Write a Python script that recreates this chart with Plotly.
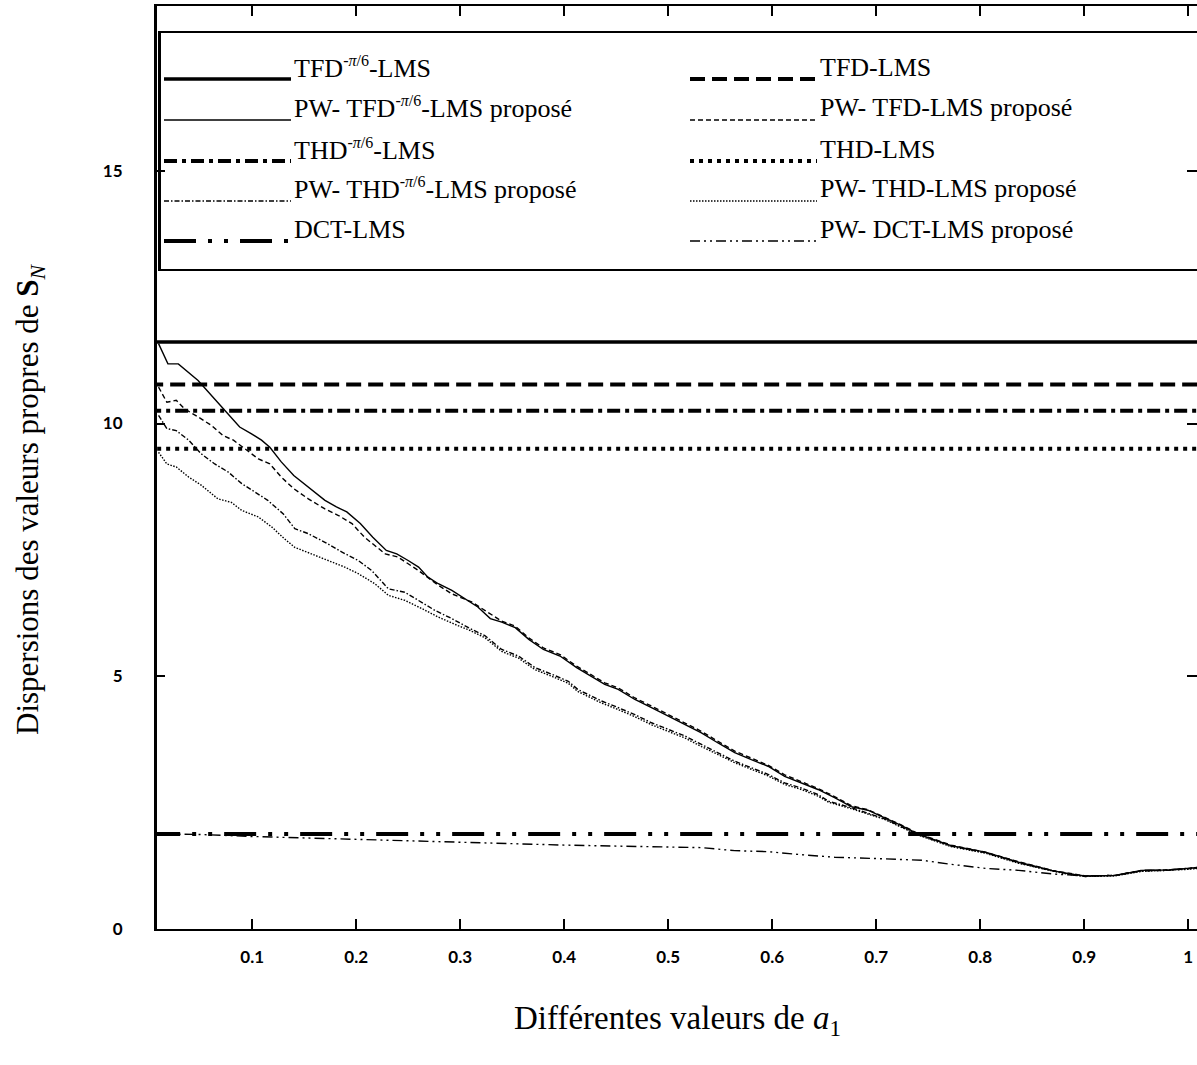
import plotly.graph_objects as go

# ---------------- data ----------------
# constant (non-PW) eigenvalue spreads
SUP = "<sup><span style='font-size:16px'>-<i>π</i>/6</span></sup>"
baseline_names = ["TFD" + SUP + "-LMS", "TFD-LMS", "THD" + SUP + "-LMS", "THD-LMS", "DCT-LMS"]
baseline_values = [11.61, 10.77, 10.25, 9.50, 1.88]
baseline_x = [0.0, 1.02]

x_pw_tfd_pi = [0.01, 0.019, 0.029, 0.048, 0.071, 0.088, 0.099, 0.109, 0.117, 0.128, 0.140, 0.154, 0.170, 0.181, 0.191,
               0.204, 0.216, 0.229, 0.239, 0.250, 0.260, 0.269, 0.279, 0.292, 0.305, 0.317, 0.329, 0.340, 0.353, 0.366,
               0.380, 0.396, 0.412, 0.423, 0.439, 0.452, 0.468, 0.484, 0.500, 0.516, 0.532, 0.548, 0.564, 0.580, 0.596,
               0.612, 0.628, 0.644, 0.660, 0.676, 0.692, 0.708, 0.724, 0.740, 0.772, 0.805, 0.837, 0.869, 0.885, 0.901,
               0.930, 0.955, 0.981, 1.000, 1.010]
y_pw_tfd_pi = [11.58, 11.18, 11.18, 10.85, 10.32, 9.93, 9.80, 9.67, 9.53, 9.24, 8.97, 8.74, 8.48, 8.35, 8.25,
               8.02, 7.75, 7.49, 7.42, 7.29, 7.16, 6.96, 6.83, 6.70, 6.53, 6.37, 6.14, 6.07, 5.96, 5.73,
               5.53, 5.40, 5.17, 5.04, 4.84, 4.74, 4.54, 4.38, 4.21, 4.05, 3.88, 3.68, 3.49, 3.35, 3.22,
               3.02, 2.89, 2.76, 2.60, 2.42, 2.35, 2.20, 2.05, 1.88, 1.65, 1.52, 1.32, 1.16, 1.09, 1.05,
               1.06, 1.16, 1.17, 1.20, 1.22]

x_pw_tfd = [0.01, 0.018, 0.027, 0.035, 0.048, 0.061, 0.072, 0.082, 0.093, 0.106, 0.117, 0.128, 0.140, 0.154, 0.170,
            0.183, 0.196, 0.208, 0.228, 0.240, 0.260, 0.279, 0.292, 0.311, 0.324, 0.340, 0.353, 0.366, 0.380, 0.396,
            0.412, 0.423, 0.439, 0.452, 0.468, 0.484, 0.500, 0.516, 0.532, 0.548, 0.564, 0.580, 0.596, 0.612, 0.628,
            0.644, 0.660, 0.676, 0.692, 0.708, 0.724, 0.740, 0.772, 0.805, 0.837, 0.869, 0.885, 0.901, 0.930, 0.955,
            0.981, 1.000, 1.010]
y_pw_tfd = [10.72, 10.42, 10.46, 10.29, 10.13, 9.96, 9.76, 9.67, 9.50, 9.30, 9.20, 8.94, 8.71, 8.51, 8.31,
            8.18, 8.02, 7.75, 7.42, 7.36, 7.09, 6.80, 6.63, 6.47, 6.30, 6.09, 5.99, 5.76, 5.56, 5.43,
            5.20, 5.07, 4.87, 4.77, 4.57, 4.41, 4.24, 4.08, 3.91, 3.71, 3.52, 3.38, 3.24, 3.05, 2.92,
            2.78, 2.62, 2.44, 2.36, 2.21, 2.06, 1.89, 1.66, 1.52, 1.33, 1.16, 1.10, 1.05, 1.06, 1.15,
            1.17, 1.19, 1.21]

x_pw_thd_pi = [0.01, 0.018, 0.027, 0.039, 0.051, 0.064, 0.077, 0.090, 0.103, 0.115, 0.130, 0.141, 0.154, 0.170, 0.186,
               0.202, 0.215, 0.231, 0.247, 0.260, 0.276, 0.292, 0.308, 0.324, 0.340, 0.356, 0.372, 0.388, 0.404, 0.413,
               0.436, 0.452, 0.468, 0.484, 0.500, 0.516, 0.532, 0.548, 0.564, 0.580, 0.596, 0.612, 0.628, 0.644, 0.654,
               0.676, 0.708, 0.740, 0.772, 0.805, 0.837, 0.869, 0.885, 0.901, 0.930, 0.955, 0.981, 1.000, 1.010]
y_pw_thd_pi = [10.16, 9.90, 9.86, 9.67, 9.40, 9.20, 9.04, 8.81, 8.64, 8.48, 8.21, 7.92, 7.82, 7.65, 7.46,
               7.29, 7.09, 6.73, 6.66, 6.50, 6.30, 6.14, 5.96, 5.80, 5.53, 5.40, 5.17, 5.04, 4.90, 4.74,
               4.51, 4.38, 4.24, 4.08, 3.95, 3.82, 3.65, 3.49, 3.32, 3.19, 3.06, 2.89, 2.79, 2.66, 2.53,
               2.40, 2.18, 1.87, 1.64, 1.51, 1.31, 1.15, 1.09, 1.04, 1.06, 1.15, 1.16, 1.19, 1.21]

x_pw_thd = [0.01, 0.018, 0.027, 0.039, 0.051, 0.067, 0.080, 0.090, 0.106, 0.119, 0.131, 0.141, 0.157, 0.173, 0.189,
            0.202, 0.218, 0.231, 0.247, 0.263, 0.279, 0.298, 0.308, 0.324, 0.340, 0.356, 0.372, 0.388, 0.404, 0.413,
            0.436, 0.452, 0.468, 0.484, 0.500, 0.516, 0.532, 0.548, 0.564, 0.580, 0.596, 0.612, 0.628, 0.644, 0.654,
            0.676, 0.708, 0.740, 0.772, 0.805, 0.837, 0.869, 0.885, 0.901, 0.930, 0.955, 0.981, 1.000, 1.010]
y_pw_thd = [9.43, 9.20, 9.14, 8.94, 8.78, 8.51, 8.44, 8.28, 8.15, 7.95, 7.72, 7.55, 7.42, 7.29, 7.16,
            7.03, 6.83, 6.60, 6.50, 6.34, 6.17, 6.00, 5.92, 5.76, 5.49, 5.36, 5.13, 5.00, 4.86, 4.70,
            4.47, 4.34, 4.20, 4.04, 3.91, 3.78, 3.61, 3.45, 3.29, 3.16, 3.03, 2.86, 2.76, 2.63, 2.51,
            2.38, 2.17, 1.86, 1.63, 1.50, 1.30, 1.15, 1.08, 1.04, 1.05, 1.14, 1.16, 1.18, 1.20]

x_pw_dct = [0.01, 0.05, 0.10, 0.15, 0.20, 0.25, 0.30, 0.35, 0.40, 0.45, 0.50, 0.532, 0.564, 0.596, 0.628,
            0.660, 0.705, 0.744, 0.772, 0.805, 0.837, 0.869, 0.885, 0.901, 0.930, 0.955, 0.981, 1.000, 1.010]
y_pw_dct = [1.88, 1.87, 1.83, 1.80, 1.77, 1.74, 1.71, 1.68, 1.66, 1.64, 1.62, 1.61, 1.55, 1.53, 1.47,
            1.42, 1.39, 1.36, 1.28, 1.20, 1.16, 1.09, 1.07, 1.05, 1.06, 1.16, 1.17, 1.20, 1.22]

x_tick_vals = [0.1, 0.2, 0.3, 0.4, 0.5, 0.6, 0.7, 0.8, 0.9, 1.0]
x_tick_text = ["0.1", "0.2", "0.3", "0.4", "0.5", "0.6", "0.7", "0.8", "0.9", "1"]
y_tick_vals = [0, 5, 10, 15]
y_tick_text = ["0", "5", "10", "15"]

# ---------------- styles ----------------
W, H = 1197, 1065
ML, MR, MT, MB = 157, 0, 6, 136
PW = W - ML - MR
PH = H - MT - MB

THICK = 4
THIN = 1.4
dash_tfd = "15px,7px"
dash_thd_pi = "13px,5px,4px,5px"
dash_thd = "4px,5px"
dash_dct = "32px,12px,4px,12px,4px,12px"
tdash_tfd = "5px,3px"
tdash_thd_pi = "5px,2px,1.5px,2px"
tdash_thd = "1.5px,1.5px"
tdash_dct = "10px,4px,2px,4px,2px,4px"

baseline_styles = [("solid", 3.5), (dash_tfd, THICK), (dash_thd_pi, THICK), (dash_thd, THICK), (dash_dct, THICK)]

pw_series = [
    ("PW- TFD" + SUP + "-LMS proposé", x_pw_tfd_pi, y_pw_tfd_pi, "solid"),
    ("PW- TFD-LMS proposé", x_pw_tfd, y_pw_tfd, tdash_tfd),
    ("PW- THD" + SUP + "-LMS proposé", x_pw_thd_pi, y_pw_thd_pi, tdash_thd_pi),
    ("PW- THD-LMS proposé", x_pw_thd, y_pw_thd, tdash_thd),
    ("PW- DCT-LMS proposé", x_pw_dct, y_pw_dct, tdash_dct),
]

fig = go.Figure()

for (name, xs, ys, dash) in pw_series:
    fig.add_trace(go.Scatter(x=xs, y=ys, mode="lines", name=name, showlegend=False,
                             line=dict(color="black", width=THIN, dash=dash)))

for name, val, (dash, wd) in zip(baseline_names, baseline_values, baseline_styles):
    fig.add_trace(go.Scatter(x=baseline_x, y=[val, val], mode="lines", name=name, showlegend=False,
                             line=dict(color="black", width=wd, dash=dash)))

# helper trace so the right-side tick axis is drawn
fig.add_trace(go.Scatter(x=[0.5], y=[5], yaxis="y2", mode="markers", marker=dict(opacity=0),
                         showlegend=False, hoverinfo="skip"))


def px_x(px):
    return (px - ML) / PW


def px_y(py):
    return (H - MB - py) / PH


shapes = []
annotations = []

# legend box
shapes.append(dict(type="rect", xref="paper", yref="paper", x0=px_x(159), x1=px_x(1215),
                   y0=px_y(270), y1=px_y(32), line=dict(color="black", width=2), fillcolor="white", layer="below"))
shapes.append(dict(type="line", xref="paper", yref="paper", x0=px_x(159.5), x1=px_x(159.5),
                   y0=px_y(270), y1=px_y(32), line=dict(color="black", width=3)))

legend_rows_line_y = [79, 120, 161, 201, 241]
legend_left = [
    (baseline_names[0], "solid", 3.5),
    (pw_series[0][0], "solid", THIN),
    (baseline_names[2], dash_thd_pi, THICK),
    (pw_series[2][0], tdash_thd_pi, THIN),
    (baseline_names[4], dash_dct, THICK),
]
legend_right = [
    (baseline_names[1], dash_tfd, THICK),
    (pw_series[1][0], tdash_tfd, THIN),
    (baseline_names[3], dash_thd, THICK),
    (pw_series[3][0], tdash_thd, THIN),
    (pw_series[4][0], tdash_dct, THIN),
]

LEG_FONT = dict(family="Liberation Serif", size=26, color="black")
for col, (lx0, lx1, tx) in zip([legend_left, legend_right], [(164, 291, 292), (690, 817, 818)]):
    for (label, dash, wd), ly in zip(col, legend_rows_line_y):
        shapes.append(dict(type="line", xref="paper", yref="paper", x0=px_x(lx0), x1=px_x(lx1),
                           y0=px_y(ly), y1=px_y(ly), line=dict(color="black", width=wd, dash=dash)))
        annotations.append(dict(xref="paper", yref="paper", x=px_x(tx), y=px_y(ly - 12), text=label,
                                showarrow=False, xanchor="left", yanchor="middle", font=LEG_FONT))

annotations.append(dict(xref="paper", yref="paper", x=0.5, y=px_y(1020),
                        text="Différentes valeurs de <i>a</i><sub>1</sub>", showarrow=False,
                        xanchor="center", yanchor="middle",
                        font=dict(family="Liberation Serif", size=33, color="black")))
annotations.append(dict(xref="paper", yref="paper", x=px_x(30), y=px_y(500),
                        text="Dispersions des valeurs propres de <b>S</b><sub><i>N</i></sub>", showarrow=False,
                        xanchor="center", yanchor="middle", textangle=-90,
                        font=dict(family="Liberation Serif", size=31, color="black")))

TICK_FONT = dict(family="Lato", size=17, color="black", weight="bold")
YR = [0, PH / 50.55]

fig.update_layout(
    width=W, height=H,
    margin=dict(l=ML, r=MR, t=MT, b=MB, pad=0),
    plot_bgcolor="white", paper_bgcolor="white",
    showlegend=False,
    shapes=shapes,
    annotations=annotations,
    xaxis=dict(range=[0.0085, 0.0085 + PW / 1040.0], tickvals=x_tick_vals, ticktext=x_tick_text,
               ticks="inside", ticklen=10, tickwidth=1.5, tickcolor="black",
               showline=True, linewidth=2, linecolor="black", mirror="ticks",
               showgrid=False, zeroline=False, tickfont=TICK_FONT, ticklabelstandoff=12,
               automargin=False),
    yaxis=dict(range=YR, tickvals=y_tick_vals, ticktext=y_tick_text,
               ticks="inside", ticklen=8, tickwidth=1.5, tickcolor="black",
               showline=True, linewidth=3, linecolor="black", mirror=False,
               showgrid=False, zeroline=False, tickfont=TICK_FONT, ticklabelstandoff=28,
               automargin=False),
    yaxis2=dict(range=YR, overlaying="y", side="right", tickvals=[0, 5, 10, 15],
                ticks="inside", ticklen=10, tickwidth=1.5, tickcolor="black",
                showline=False, showticklabels=False, showgrid=False, zeroline=False,
                automargin=False),
)

fig.write_html("out.html", config={"displayModeBar": False},
               post_script="document.body.style.margin='0px';document.body.style.overflow='hidden';")
